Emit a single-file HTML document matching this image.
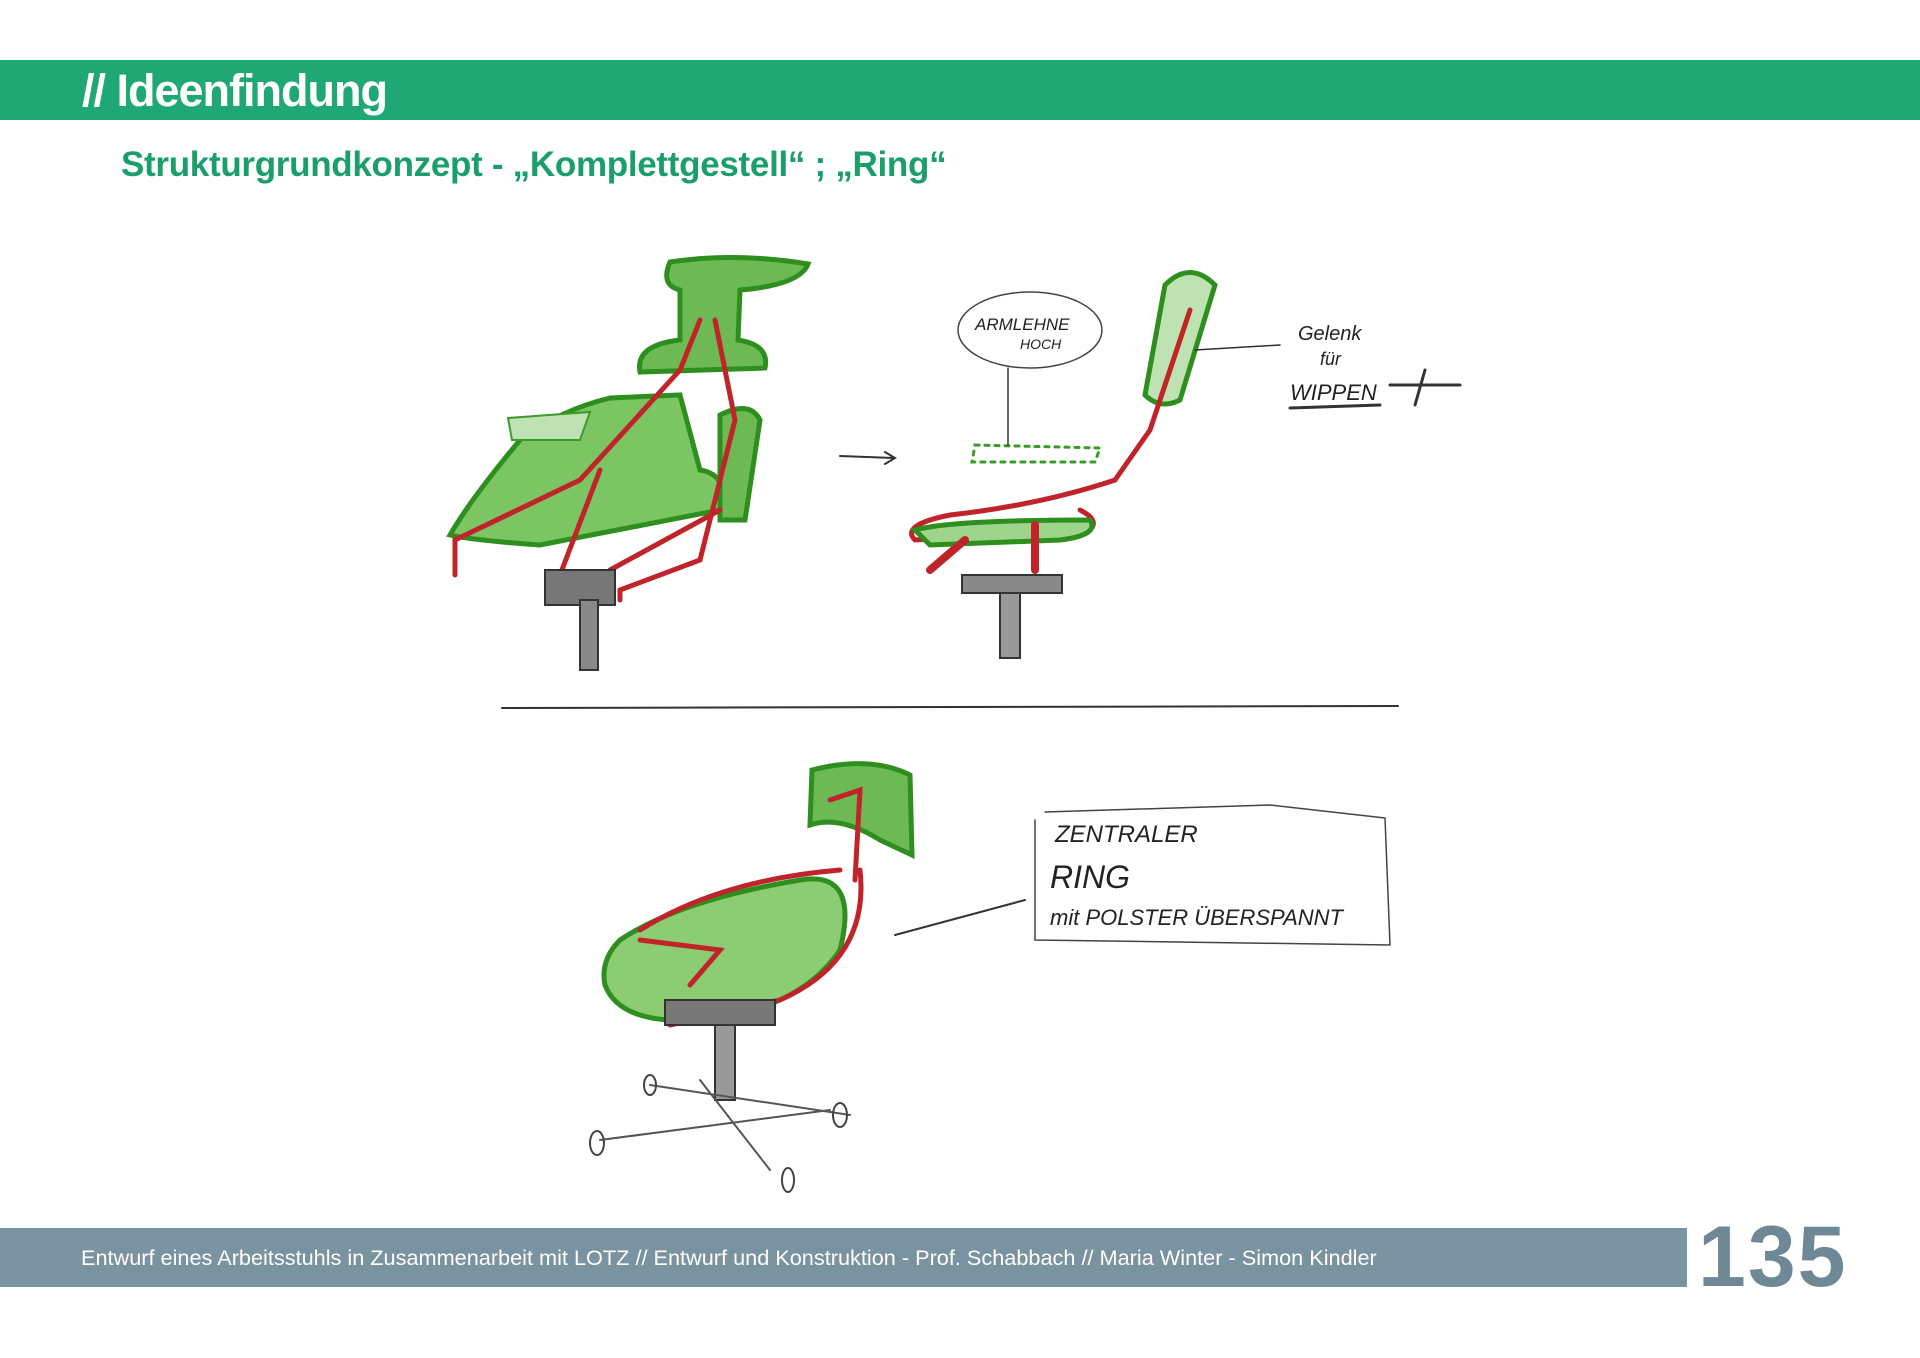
<!DOCTYPE html>
<html><head><meta charset="utf-8"><style>
body{margin:0;width:1920px;height:1358px;background:#fff;position:relative;overflow:hidden;font-family:"Liberation Sans",sans-serif}
.hdr{position:absolute;left:0;top:60px;width:1920px;height:60px;background:#1fa774}
.hdr span{position:absolute;left:82px;top:5px;color:#fff;font-weight:bold;font-size:45px;letter-spacing:-1px}
.sub{position:absolute;left:121px;top:145px;color:#1a9e6a;font-weight:bold;font-size:35px;letter-spacing:-0.3px}
.ftr{position:absolute;left:0;top:1228px;width:1687px;height:59px;background:#7a93a0}
.ftr span{position:absolute;left:81px;top:17px;color:#fff;font-size:21.7px}
.num{position:absolute;left:1698px;top:1208px;color:#6f8896;font-weight:bold;font-size:86px;letter-spacing:2px}
svg{position:absolute;left:0;top:0}
</style></head><body>
<div class="hdr"><span>// Ideenfindung</span></div>
<div class="sub">Strukturgrundkonzept - „Komplettgestell“ ; „Ring“</div>
<svg width="1920" height="1358" font-family="Liberation Sans" fill="none" stroke-linecap="round">
<g stroke-width="5">
<path d="M670 262 Q735 252 808 264 Q800 285 740 290 L738 340 Q770 345 765 368 L640 372 Q635 345 680 340 L680 290 Q660 285 670 262Z" fill="#6dba55" stroke="#2e8f1f"/>
<path d="M520 440 Q560 410 610 398 L680 395 L700 470 Q730 475 720 510 L540 545 Q470 540 450 535 Q470 500 520 440Z" fill="#7cc563" stroke="#2e8f1f"/>
<path d="M720 415 Q750 400 760 420 L745 520 L720 520Z" fill="#6dba55" stroke="#2e8f1f"/>
<path d="M508 418 L590 412 L580 440 L512 440Z" fill="#bfe2b3" stroke="#3c9a2c" stroke-width="2"/>
<path d="M700 320 L680 370 L580 480 M715 320 L735 420 L700 560 L620 590 L620 600 M580 480 L455 540 L455 575 M600 470 L560 575 M720 510 L610 570" stroke="#c0242a"/>
<rect x="545" y="570" width="70" height="35" fill="#777" stroke="#333" stroke-width="2"/>
<rect x="580" y="600" width="18" height="70" fill="#888" stroke="#333" stroke-width="2"/>
</g>
<path d="M840 456 L895 458 M885 452 L895 458 L885 464" stroke="#333" stroke-width="2"/>
<g stroke-width="5">
<path d="M1165 285 Q1190 260 1215 285 L1180 400 Q1160 410 1145 395Z" fill="#bfe2b3" stroke="#2e8f1f"/>
<path d="M1190 310 L1150 430 L1115 480 Q1040 505 950 515 Q900 525 915 540 L1090 530 Q1100 520 1080 510" stroke="#c0242a"/>
<path d="M915 530 Q950 520 1090 520 Q1100 535 1060 540 L930 545Z" fill="#9fd48d" stroke="#2e8f1f"/>
<path d="M975 445 L1100 448 L1095 462 L972 462Z" stroke="#3c9a2c" stroke-width="3" stroke-dasharray="4 6"/>
<path d="M965 540 L930 570 M1035 525 L1035 570" stroke="#c0242a" stroke-width="8"/>
<rect x="962" y="575" width="100" height="18" fill="#888" stroke="#333" stroke-width="2"/>
<rect x="1000" y="593" width="20" height="65" fill="#999" stroke="#333" stroke-width="2"/>
</g>
<ellipse cx="1030" cy="330" rx="72" ry="38" stroke="#444" stroke-width="1.5"/>
<text x="975" y="330" fill="#222" font-size="17" font-style="italic">ARMLEHNE</text>
<text x="1020" y="349" fill="#222" font-size="14" font-style="italic">HOCH</text>
<path d="M1008 368 L1008 445 M1195 350 L1280 345" stroke="#333" stroke-width="1.5"/>
<text x="1298" y="340" fill="#222" font-size="20" font-style="italic">Gelenk</text>
<text x="1320" y="365" fill="#222" font-size="18" font-style="italic">für</text>
<text x="1290" y="400" fill="#222" font-size="22" font-style="italic">WIPPEN</text>
<path d="M1290 408 L1380 405 M1390 385 L1460 385 M1425 370 L1415 405" stroke="#333" stroke-width="3"/>
<line x1="502" y1="708" x2="1398" y2="706" stroke="#333" stroke-width="2"/>
<g stroke-width="5">
<path d="M812 770 Q870 755 910 775 L912 855 L880 840 Q840 815 810 825Z" fill="#6dba55" stroke="#2e8f1f"/>
<path d="M620 940 Q680 900 800 880 Q860 870 840 950 Q800 1010 700 1020 Q620 1025 605 985 Q600 960 620 940Z" fill="#8ccd74" stroke="#2e8f1f"/>
<path d="M830 800 L860 790 L855 880 M840 870 Q720 880 640 930 M640 940 L720 950 L690 985 M860 870 Q870 960 780 1000 L670 1025" stroke="#c0242a"/>
<rect x="665" y="1000" width="110" height="25" fill="#777" stroke="#333" stroke-width="2"/>
<rect x="715" y="1025" width="20" height="75" fill="#999" stroke="#333" stroke-width="2"/>
</g>
<path d="M600 1140 L830 1110 M700 1080 L770 1170 M650 1085 L850 1115" stroke="#555" stroke-width="2"/>
<g stroke="#444" stroke-width="2"><ellipse cx="597" cy="1143" rx="7" ry="12"/><ellipse cx="840" cy="1115" rx="7" ry="12"/><ellipse cx="650" cy="1085" rx="6" ry="10"/><ellipse cx="788" cy="1180" rx="6" ry="12"/></g>
<path d="M895 935 L1025 900" stroke="#333" stroke-width="2"/>
<path d="M1045 812 L1270 805 L1385 818 M1035 820 L1035 940 L1390 945 M1385 818 L1390 945" stroke="#444" stroke-width="1.5"/>
<text x="1055" y="842" fill="#222" font-size="24" font-style="italic">ZENTRALER</text>
<text x="1050" y="888" fill="#222" font-size="32" font-style="italic">RING</text>
<text x="1050" y="925" fill="#222" font-size="22" font-style="italic">mit POLSTER ÜBERSPANNT</text>
</svg>
<div class="ftr"><span>Entwurf eines Arbeitsstuhls in Zusammenarbeit mit LOTZ // Entwurf und Konstruktion - Prof. Schabbach // Maria Winter - Simon Kindler</span></div>
<div class="num">135</div>
</body></html>
